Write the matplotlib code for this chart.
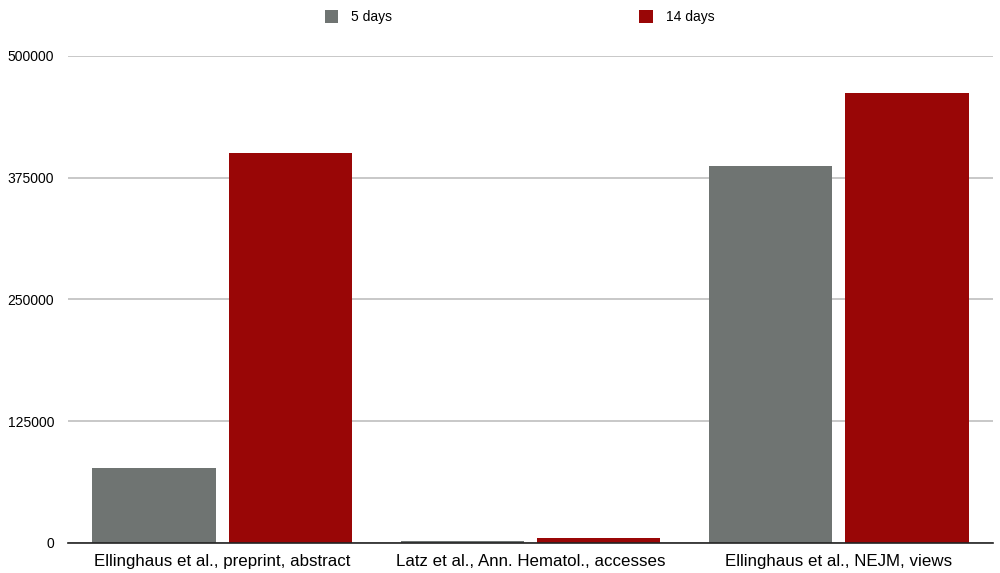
import numpy as np
import matplotlib.pyplot as plt

categories = ["Ellinghaus et al., preprint, abstract",
              "Latz et al., Ann. Hematol., accesses",
              "Ellinghaus et al., NEJM, views"]
days5 = [77000, 1600, 387000]
days14 = [400000, 5200, 462000]
yticks = [0, 125000, 250000, 375000, 500000]

plt.rcParams['font.family'] = ['Liberation Sans', 'DejaVu Sans']

fig = plt.figure(figsize=(10, 5.73), dpi=100)
ax = fig.add_axes([0.068, 0.0524, 0.925, 0.85])

x = np.arange(len(categories))
w = 0.4
gap = 0.042
ax.bar(x - (w + gap) / 2, days5, w, color='#6f7472', label='5 days', zorder=3)
ax.bar(x + (w + gap) / 2, days14, w, color='#990606', label='14 days', zorder=3)

ax.set_xlim(-0.5, 2.5)
ax.set_ylim(0, 500000)
ax.set_yticks(yticks)
ax.set_yticklabels([str(v) for v in yticks], fontsize=10)
ax.set_xticks(x)
ax.set_xticklabels(categories, fontsize=12.2)
ax.tick_params(axis='both', length=0, pad=10)
ax.tick_params(axis='x', pad=8)
ax.grid(axis='y', color='#c4c4c4', linewidth=1.3, zorder=0)
for s in ['top', 'right', 'left']:
    ax.spines[s].set_visible(False)
ax.spines['bottom'].set_color('#222222')
ax.spines['bottom'].set_linewidth(1.2)
ax.spines['bottom'].set_zorder(4)

h, l = ax.get_legend_handles_labels()
fig.legend(h, l, loc='upper left', bbox_to_anchor=(0.312, 1.004), ncol=2,
           frameon=False, fontsize=10, handlelength=1.0, handleheight=1.0,
           columnspacing=17.8, handletextpad=0.9)

plt.savefig('out.png', dpi=100)
